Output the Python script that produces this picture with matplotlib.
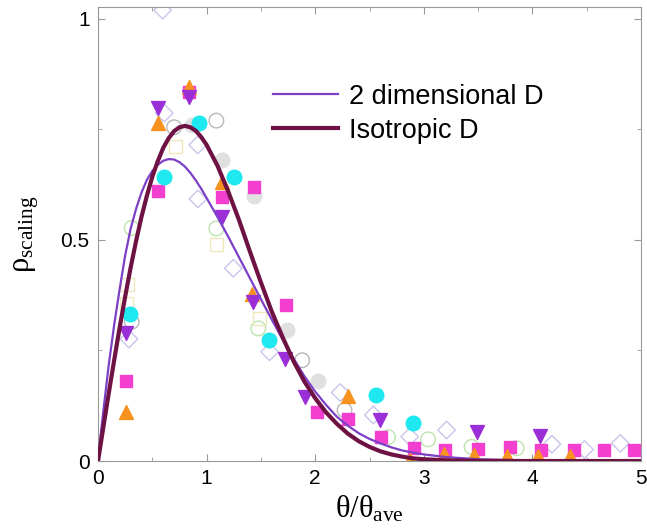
import numpy as np
import matplotlib
matplotlib.use('Agg')
import matplotlib.pyplot as plt

plt.rcParams['font.family'] = ['Liberation Sans', 'DejaVu Sans']
plt.rcParams['mathtext.fontset'] = 'custom'
plt.rcParams['mathtext.rm'] = 'Liberation Serif'
plt.rcParams['mathtext.it'] = 'Liberation Serif'

# curves
iso_x = [0, 0.05, 0.1, 0.15, 0.2, 0.25, 0.3, 0.35, 0.4, 0.45, 0.5, 0.55, 0.6, 0.65, 0.7,
         0.75, 0.8, 0.85, 0.9, 0.95, 1.0, 1.1, 1.2, 1.3, 1.4, 1.5, 1.6, 1.7, 1.8, 1.9,
         2.0, 2.1, 2.2, 2.3, 2.4, 2.5, 2.6, 2.7, 2.8, 2.9, 3.0, 3.2, 3.5, 4.0, 5.0]
iso_y = [0, 0.078, 0.155, 0.23, 0.303, 0.372, 0.437, 0.497, 0.552, 0.60, 0.643, 0.678,
         0.708, 0.73, 0.746, 0.755, 0.758, 0.755, 0.747, 0.733, 0.715, 0.668, 0.609,
         0.544, 0.473, 0.404, 0.338, 0.28, 0.226, 0.18, 0.142, 0.11, 0.084, 0.062,
         0.045, 0.032, 0.022, 0.015, 0.01, 0.006, 0.004, 0.0015, 0.0003, 0, 0]
twod_x = [0, 0.025, 0.05, 0.1, 0.15, 0.2, 0.25, 0.3, 0.35, 0.4, 0.45, 0.5, 0.55, 0.6,
          0.65, 0.7, 0.75, 0.8, 0.85, 0.9, 0.95, 1.0, 1.1, 1.2, 1.3, 1.4, 1.5, 1.6, 1.7,
          1.8, 1.9, 2.0, 2.1, 2.2, 2.3, 2.4, 2.5, 2.6, 2.7, 2.8, 2.9, 3.0, 3.2, 3.5,
          4.0, 4.5, 5.0]
twod_y = [0, 0.06, 0.115, 0.22, 0.31, 0.39, 0.465, 0.525, 0.57, 0.607, 0.636, 0.656,
          0.67, 0.679, 0.683, 0.682, 0.676, 0.666, 0.652, 0.635, 0.616, 0.595, 0.552,
          0.507, 0.46, 0.413, 0.366, 0.32, 0.275, 0.232, 0.192, 0.157, 0.127, 0.10,
          0.08, 0.063, 0.05, 0.04, 0.031, 0.024, 0.019, 0.015, 0.009, 0.004, 0.001,
          0.0003, 0]

# filled data series
sq_x = [0.26, 0.555, 0.84, 1.14, 1.436, 1.73, 2.02, 2.30, 2.61, 2.91, 3.195, 3.5, 3.79,
        4.08, 4.38, 4.66, 4.94]
sq_y = [0.182, 0.611, 0.835, 0.598, 0.62, 0.353, 0.111, 0.094, 0.054, 0.029, 0.026,
        0.027, 0.032, 0.025, 0.025, 0.026, 0.025]
up_x = [0.258, 0.555, 0.84, 1.14, 1.42, 2.30, 2.87, 3.19, 3.46, 3.77, 4.05, 4.35]
up_y = [0.112, 0.764, 0.845, 0.632, 0.378, 0.147, 0.003, 0.017, 0.014, 0.011, 0.011, 0.011]
dn_x = [0.258, 0.555, 0.84, 1.145, 1.43, 1.72, 1.906, 2.60, 3.49, 4.07]
dn_y = [0.29, 0.798, 0.824, 0.553, 0.36, 0.23, 0.145, 0.093, 0.066, 0.057]
cy_x = [0.29, 0.608, 0.93, 1.25, 1.575, 2.56, 2.90]
cy_y = [0.332, 0.643, 0.765, 0.642, 0.274, 0.149, 0.087]

# faint data series
oc_x = [0.31, 0.70, 1.09, 1.88, 2.27]
oc_y = [0.315, 0.755, 0.77, 0.228, 0.115]
gc_x = [0.87, 1.14, 1.436, 1.737, 2.03]
gc_y = [0.76, 0.68, 0.60, 0.296, 0.181]
dm_x = [0.285, 0.595, 0.61, 0.918, 0.92, 1.246, 1.58, 2.23, 2.535, 2.87, 3.21, 4.18, 4.48, 4.81]
dm_y = [0.276, 1.02, 0.787, 0.715, 0.593, 0.436, 0.247, 0.155, 0.104, 0.055, 0.07, 0.038,
        0.026, 0.04]
gr_x = [0.31, 1.09, 1.476, 2.67, 3.04, 3.44, 3.855]
gr_y = [0.527, 0.526, 0.30, 0.054, 0.049, 0.032, 0.029]
ys_x = [0.27, 0.26, 0.71, 1.09, 1.49]
ys_y = [0.40, 0.357, 0.711, 0.489, 0.323]

fig = plt.figure(figsize=(6.47, 5.29), dpi=100)
ax = fig.add_axes([0.1515, 0.1285, 0.8392, 0.8583])

# faint markers underneath
ax.scatter(oc_x, oc_y, s=110, facecolors='none', edgecolors='#b8b8b8', linewidths=1.0, zorder=1)
ax.scatter(gc_x, gc_y, s=110, color='#e0e0e0', zorder=1)
ax.scatter(dm_x, dm_y, s=80, marker='D', facecolors='none', edgecolors='#cac4ec', linewidths=1.0, zorder=1)
ax.scatter(gr_x, gr_y, s=110, facecolors='none', edgecolors='#bde3ae', linewidths=1.0, zorder=1)
ax.scatter(ys_x, ys_y, s=90, marker='s', facecolors='none', edgecolors='#eee8bc', linewidths=1.0, zorder=1)

# filled markers
ax.scatter(sq_x, sq_y, s=75, marker='s', color='#f23fd0', zorder=2)
ax.scatter(up_x, up_y, s=100, marker='^', color='#f7921e', zorder=2)
ax.scatter(dn_x, dn_y, s=100, marker='v', color='#9a2fd8', zorder=2)
ax.scatter(cy_x, cy_y, s=110, marker='o', color='#1ee8f0', zorder=2)

ax.plot(twod_x, twod_y, color='#7c3fc6', lw=1.6, label='2 dimensional D', zorder=3)
ax.plot(iso_x, iso_y, color='#6e1143', lw=3.0, label='Isotropic D', zorder=3)

ax.set_xlim(0, 5)
ax.set_ylim(0, 1.027)
ax.set_xticks([0, 1, 2, 3, 4, 5])
ax.set_xticks([0.5, 1.5, 2.5, 3.5, 4.5], minor=True)
ax.set_yticks([0, 0.5, 1])
ax.set_yticklabels(['0', '0.5', '1'])
ax.set_yticks([0.25, 0.75], minor=True)
ax.tick_params(which='both', direction='in', top=True, right=True, color='#999999',
               labelsize=15, pad=6)
ax.tick_params(which='major', length=5)
ax.tick_params(which='minor', length=3)
for sp in ax.spines.values():
    sp.set_color('#999999')
    sp.set_linewidth(0.8)

ax.set_xlabel(r'$\theta/\theta_{\rm ave}$', fontsize=22, labelpad=4)
ax.set_ylabel(r'$\rho_{\rm scaling}$', fontsize=22, labelpad=14)

ax.legend(loc='upper left', bbox_to_anchor=(0.278, 0.885), frameon=False, fontsize=19.5,
          handlelength=2.4, handletextpad=0.4, labelspacing=0.3)

fig.savefig('out.png', dpi=100)
